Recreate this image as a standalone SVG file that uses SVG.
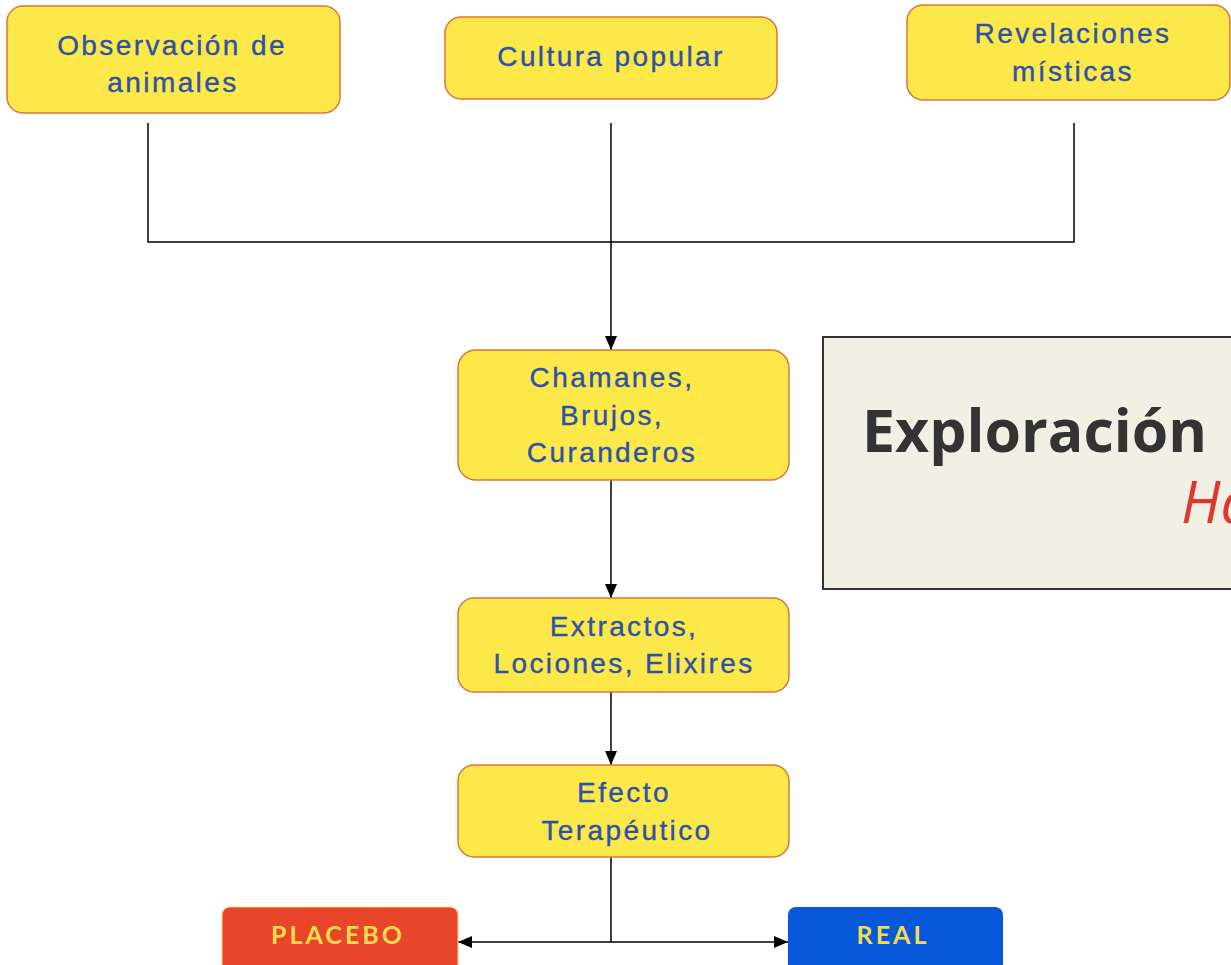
<svg xmlns="http://www.w3.org/2000/svg" width="1231" height="965" viewBox="0 0 1231 965">
  <defs>
    <marker id="arrow" viewBox="0 0 14 12" refX="14" refY="6" markerWidth="14" markerHeight="12" markerUnits="userSpaceOnUse" orient="auto">
      <path d="M0,0 L14,6 L0,12 Z" fill="#000"/>
    </marker>
    <style>
      .node rect { fill: #fde84a; stroke: #d9773a; stroke-width: 1.5; }
      .node text { font-family: "Liberation Sans", Arial, sans-serif; font-size: 28px; fill: #2c52a8; stroke: #2c52a8; stroke-width: 0.35px; letter-spacing: 2.4px; text-anchor: middle; }
      .wire { fill: none; stroke: #000; stroke-width: 1.5; }
      .outcome text { font-family: Lato, "Open Sans", sans-serif; font-weight: 700; font-size: 25px; fill: #f3dc4e; letter-spacing: 3px; text-anchor: middle; }
    </style>
  </defs>

  <rect width="1231" height="965" fill="#fff"/>

  <!-- connectors -->
  <g id="connectors">
    <path class="wire" d="M148,123 V242 H1074 V123"/>
    <path class="wire" d="M611,123 V242"/>
    <path class="wire" d="M611,242 V350" marker-end="url(#arrow)"/>
    <path class="wire" d="M611,480 V598" marker-end="url(#arrow)"/>
    <path class="wire" d="M611,692 V765" marker-end="url(#arrow)"/>
    <path class="wire" d="M611,857 V942"/>
    <path class="wire" d="M611,942 H458" marker-end="url(#arrow)"/>
    <path class="wire" d="M611,942 H788" marker-end="url(#arrow)"/>
  </g>

  <!-- sources -->
  <g id="observacion" class="node">
    <rect x="7" y="6" width="333" height="107" rx="16"/>
    <text x="172" y="55">Observación de</text>
    <text x="173" y="92">animales</text>
  </g>
  <g id="cultura" class="node">
    <rect x="445" y="17" width="332" height="82" rx="16"/>
    <text x="611" y="66">Cultura popular</text>
  </g>
  <g id="revelaciones" class="node">
    <rect x="907" y="5" width="323" height="95" rx="16"/>
    <text x="1073" y="43">Revelaciones</text>
    <text x="1073" y="81">místicas</text>
  </g>

  <!-- chain -->
  <g id="chamanes" class="node">
    <rect x="458" y="350" width="331" height="130" rx="18"/>
    <text x="612" y="387">Chamanes,</text>
    <text x="612" y="425">Brujos,</text>
    <text x="612" y="462">Curanderos</text>
  </g>
  <g id="extractos" class="node">
    <rect x="458" y="598" width="331" height="94" rx="16"/>
    <text x="624" y="636">Extractos,</text>
    <text x="624" y="673">Lociones, Elixires</text>
  </g>
  <g id="efecto" class="node">
    <rect x="458" y="765" width="331" height="92" rx="16"/>
    <text x="624" y="802">Efecto</text>
    <text x="627" y="840">Terapéutico</text>
  </g>

  <!-- outcomes -->
  <g id="placebo" class="outcome">
    <rect x="222" y="907" width="236" height="66" rx="8" fill="#e8452a" stroke="#f6d96a" stroke-width="1"/>
    <text x="338" y="944">PLACEBO</text>
  </g>
  <g id="real" class="outcome">
    <rect x="788" y="907" width="215" height="66" rx="8" fill="#0757db"/>
    <text x="893" y="944">REAL</text>
  </g>

  <!-- title panel -->
  <g id="titulo">
    <rect x="823" y="337" width="420" height="252" fill="#f2efe5" stroke="#333" stroke-width="2"/>
    <text x="862" y="452" font-family="'Open Sans', sans-serif" font-weight="700" font-size="59" fill="#333">Exploración</text>
    <text x="1181" y="523" font-family="'Open Sans', sans-serif" font-style="italic" font-size="58" fill="#e0362c">Ha</text>
  </g>
</svg>
